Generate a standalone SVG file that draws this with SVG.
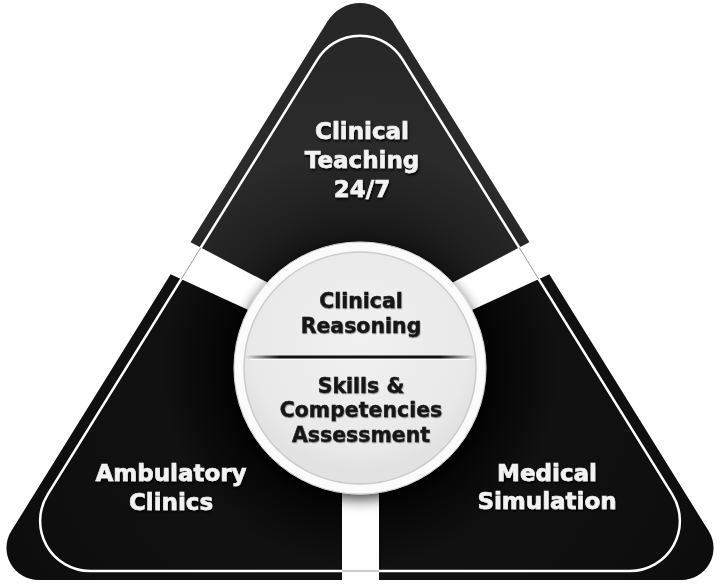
<svg xmlns="http://www.w3.org/2000/svg" width="720" height="586" viewBox="0 0 720 586">
  <style>
    .outer-label { font-family: "DejaVu Sans", "Liberation Sans", sans-serif; font-weight: bold; font-size: 23px; fill: #f2f2f2; stroke: #f2f2f2; stroke-width: 0.6px; text-anchor: middle; }
    .inner-label { font-family: "DejaVu Sans", "Liberation Sans", sans-serif; font-weight: bold; font-size: 20.5px; fill: #141414; stroke: #141414; stroke-width: 0.5px; text-anchor: middle; }
    .gap { fill: #ffffff; }
  </style>
  <defs>
    <path id="outerTri" d="M 327.7,21.1 A 38 38 0 0 1 392.3,21.1 L 708.7,531.1 A 32 32 0 0 1 681.5,580 L 38.5,580 A 32 32 0 0 1 11.3,531.1 Z"/>
    <path id="innerTri" d="M 317.5,59.4 A 50 50 0 0 1 402.5,59.4 L 672.4,494.7 A 50 50 0 0 1 629.9,571 L 90.1,571 A 50 50 0 0 1 47.6,494.7 Z"/>
    <clipPath id="clipTop"><polygon points="0,0 720,0 720,142.25 360,331.25 0,142.25"/></clipPath>
    <clipPath id="clipLeft"><polygon points="0,142.25 360,331.25 360,600 0,600"/></clipPath>
    <clipPath id="clipRight"><polygon points="720,142.25 360,331.25 360,600 720,600"/></clipPath>
    <clipPath id="clipGaps">
      <polygon points="0,142.25 360,331.25 360,361.4 0,195.8"/>
      <polygon points="720,142.25 360,331.25 360,361.4 720,195.8"/>
      <rect x="342" y="360" width="37" height="230"/>
    </clipPath>
    <radialGradient id="gradTop" gradientUnits="userSpaceOnUse" cx="360" cy="368" r="400">
      <stop offset="0.3" stop-color="#121212"/>
      <stop offset="0.4" stop-color="#1f1f1f"/>
      <stop offset="0.56" stop-color="#2b2b2b"/>
      <stop offset="1" stop-color="#252525"/>
    </radialGradient>
    <radialGradient id="gradLow" gradientUnits="userSpaceOnUse" cx="360" cy="368" r="400">
      <stop offset="0.3" stop-color="#020202"/>
      <stop offset="0.5" stop-color="#111111"/>
      <stop offset="1" stop-color="#0d0d0d"/>
    </radialGradient>
    <radialGradient id="gradDisc" gradientUnits="userSpaceOnUse" cx="360" cy="340" r="130">
      <stop offset="0" stop-color="#f1f1f1"/>
      <stop offset="0.85" stop-color="#e9e9e9"/>
      <stop offset="1" stop-color="#e2e2e2"/>
    </radialGradient>
    <linearGradient id="gradDivider" gradientUnits="userSpaceOnUse" x1="245" y1="0" x2="475" y2="0">
      <stop offset="0" stop-color="#111" stop-opacity="0"/>
      <stop offset="0.15" stop-color="#111"/>
      <stop offset="0.85" stop-color="#111"/>
      <stop offset="1" stop-color="#111" stop-opacity="0"/>
    </linearGradient>
    <filter id="circleShadow" x="-30%" y="-30%" width="160%" height="160%">
      <feDropShadow dx="0" dy="5" stdDeviation="7" flood-color="#000" flood-opacity="0.75"/>
    </filter>
    <filter id="whiteTextShadow" x="-10%" y="-30%" width="120%" height="160%">
      <feDropShadow dx="1" dy="2" stdDeviation="1" flood-color="#000" flood-opacity="0.9"/>
    </filter>
    <filter id="darkTextShadow" x="-10%" y="-30%" width="120%" height="160%">
      <feDropShadow dx="0.5" dy="1" stdDeviation="0.7" flood-color="#666" flood-opacity="0.6"/>
    </filter>
  </defs>

  <rect width="720" height="586" fill="#ffffff"/>

  <g id="top-section">
    <use href="#outerTri" fill="url(#gradTop)" clip-path="url(#clipTop)"/>
  </g>
  <g id="left-section">
    <use href="#outerTri" fill="url(#gradLow)" clip-path="url(#clipLeft)"/>
  </g>
  <g id="right-section">
    <use href="#outerTri" fill="url(#gradLow)" clip-path="url(#clipRight)"/>
  </g>

  <g id="outline">
    <use href="#innerTri" fill="none" stroke="#ffffff" stroke-width="2.5"/>
  </g>

  <g id="separators">
    <polygon class="gap" points="0,142.25 360,331.25 360,361.4 0,195.8"/>
    <polygon class="gap" points="720,142.25 360,331.25 360,361.4 720,195.8"/>
    <rect class="gap" x="342" y="360" width="37" height="230"/>
    <g clip-path="url(#clipGaps)">
      <use href="#innerTri" fill="none" stroke="#9a9a9a" stroke-width="1"/>
    </g>
  </g>

  <g id="center-circle">
    <circle cx="360" cy="368" r="126" fill="#fbfbfb" stroke="#d4d4d4" stroke-width="1" filter="url(#circleShadow)"/>
    <circle cx="360" cy="368" r="116" fill="url(#gradDisc)" stroke="#cbcbcb" stroke-width="1.5"/>
    <line x1="245" y1="357" x2="475" y2="357" stroke="url(#gradDivider)" stroke-width="3"/>
    <line x1="250" y1="359.5" x2="470" y2="359.5" stroke="#ffffff" stroke-width="1.2" opacity="0.9"/>
  </g>

  <g id="labels-top" filter="url(#whiteTextShadow)">
    <text class="outer-label" x="362" y="139">Clinical</text>
    <text class="outer-label" x="362" y="168">Teaching</text>
    <text class="outer-label" x="362" y="197">24/7</text>
  </g>
  <g id="labels-left" filter="url(#whiteTextShadow)">
    <text class="outer-label" x="171" y="481">Ambulatory</text>
    <text class="outer-label" x="171" y="510">Clinics</text>
  </g>
  <g id="labels-right" filter="url(#whiteTextShadow)">
    <text class="outer-label" x="547" y="481">Medical</text>
    <text class="outer-label" x="547" y="509">Simulation</text>
  </g>
  <g id="labels-center" filter="url(#darkTextShadow)">
    <text class="inner-label" x="361" y="308">Clinical</text>
    <text class="inner-label" x="361" y="333">Reasoning</text>
    <text class="inner-label" x="361" y="393">Skills &amp;</text>
    <text class="inner-label" x="361" y="417">Competencies</text>
    <text class="inner-label" x="361" y="442">Assessment</text>
  </g>
</svg>
